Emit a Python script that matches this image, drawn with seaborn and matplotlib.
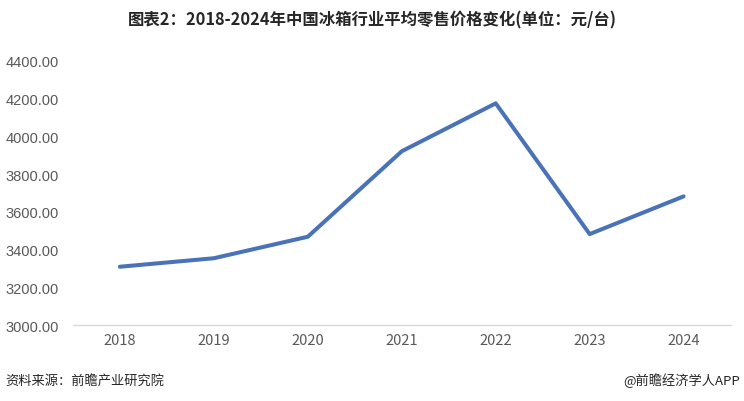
import pandas as pd
import matplotlib.pyplot as plt
import seaborn as sns

years = ["2018", "2019", "2020", "2021", "2022", "2023", "2024"]
prices = [3309, 3354, 3468, 3921, 4175, 3482, 3682]
y_ticks = [3000, 3200, 3400, 3600, 3800, 4000, 4200, 4400]

title = "图表2：2018-2024年中国冰箱行业平均零售价格变化(单位：元/台)"
source = "资料来源：前瞻产业研究院"
credit = "@前瞻经济学人APP"

sns.set_theme(style="white")
plt.rcParams['font.family'] = ['Noto Sans CJK SC', 'DejaVu Sans']

df = pd.DataFrame({"year": years, "price": prices})

fig = plt.figure(figsize=(7.44, 4.02), dpi=100)
ax = fig.add_axes([0.098, 0.189, 0.884, 0.657])

sns.lineplot(data=df, x="year", y="price", color="#4a72b8", linewidth=2.9,
             sort=False, ax=ax)

ax.set_xlim(-0.5, len(years) - 0.5)
ax.set_ylim(3000, 4400)
ax.set_yticks(y_ticks)
ax.set_yticklabels([f"{v:.2f}" for v in y_ticks], family=['Liberation Sans'],
                   fontsize=10.5, color="#595959")
ax.set_xticks(range(len(years)))
ax.set_xticklabels(years, fontsize=10.5, color="#595959")
ax.tick_params(axis="both", length=0, pad=6)
ax.tick_params(axis="y", pad=10)
ax.set_xlabel("")
ax.set_ylabel("")

for side in ["top", "right", "left"]:
    ax.spines[side].set_visible(False)
ax.spines["bottom"].set_color("#d9d9d9")
ax.spines["bottom"].set_linewidth(1)

fig.text(0.5, 0.948, title, ha="center", va="center", fontsize=11.8,
         fontweight="bold", color="#262626")
fig.text(0.007, 0.052, source, ha="left", va="center", fontsize=9.5, color="#262626")
fig.text(0.995, 0.052, credit, ha="right", va="center", fontsize=9.5, color="#262626")

fig.savefig("out.png", dpi=100)
